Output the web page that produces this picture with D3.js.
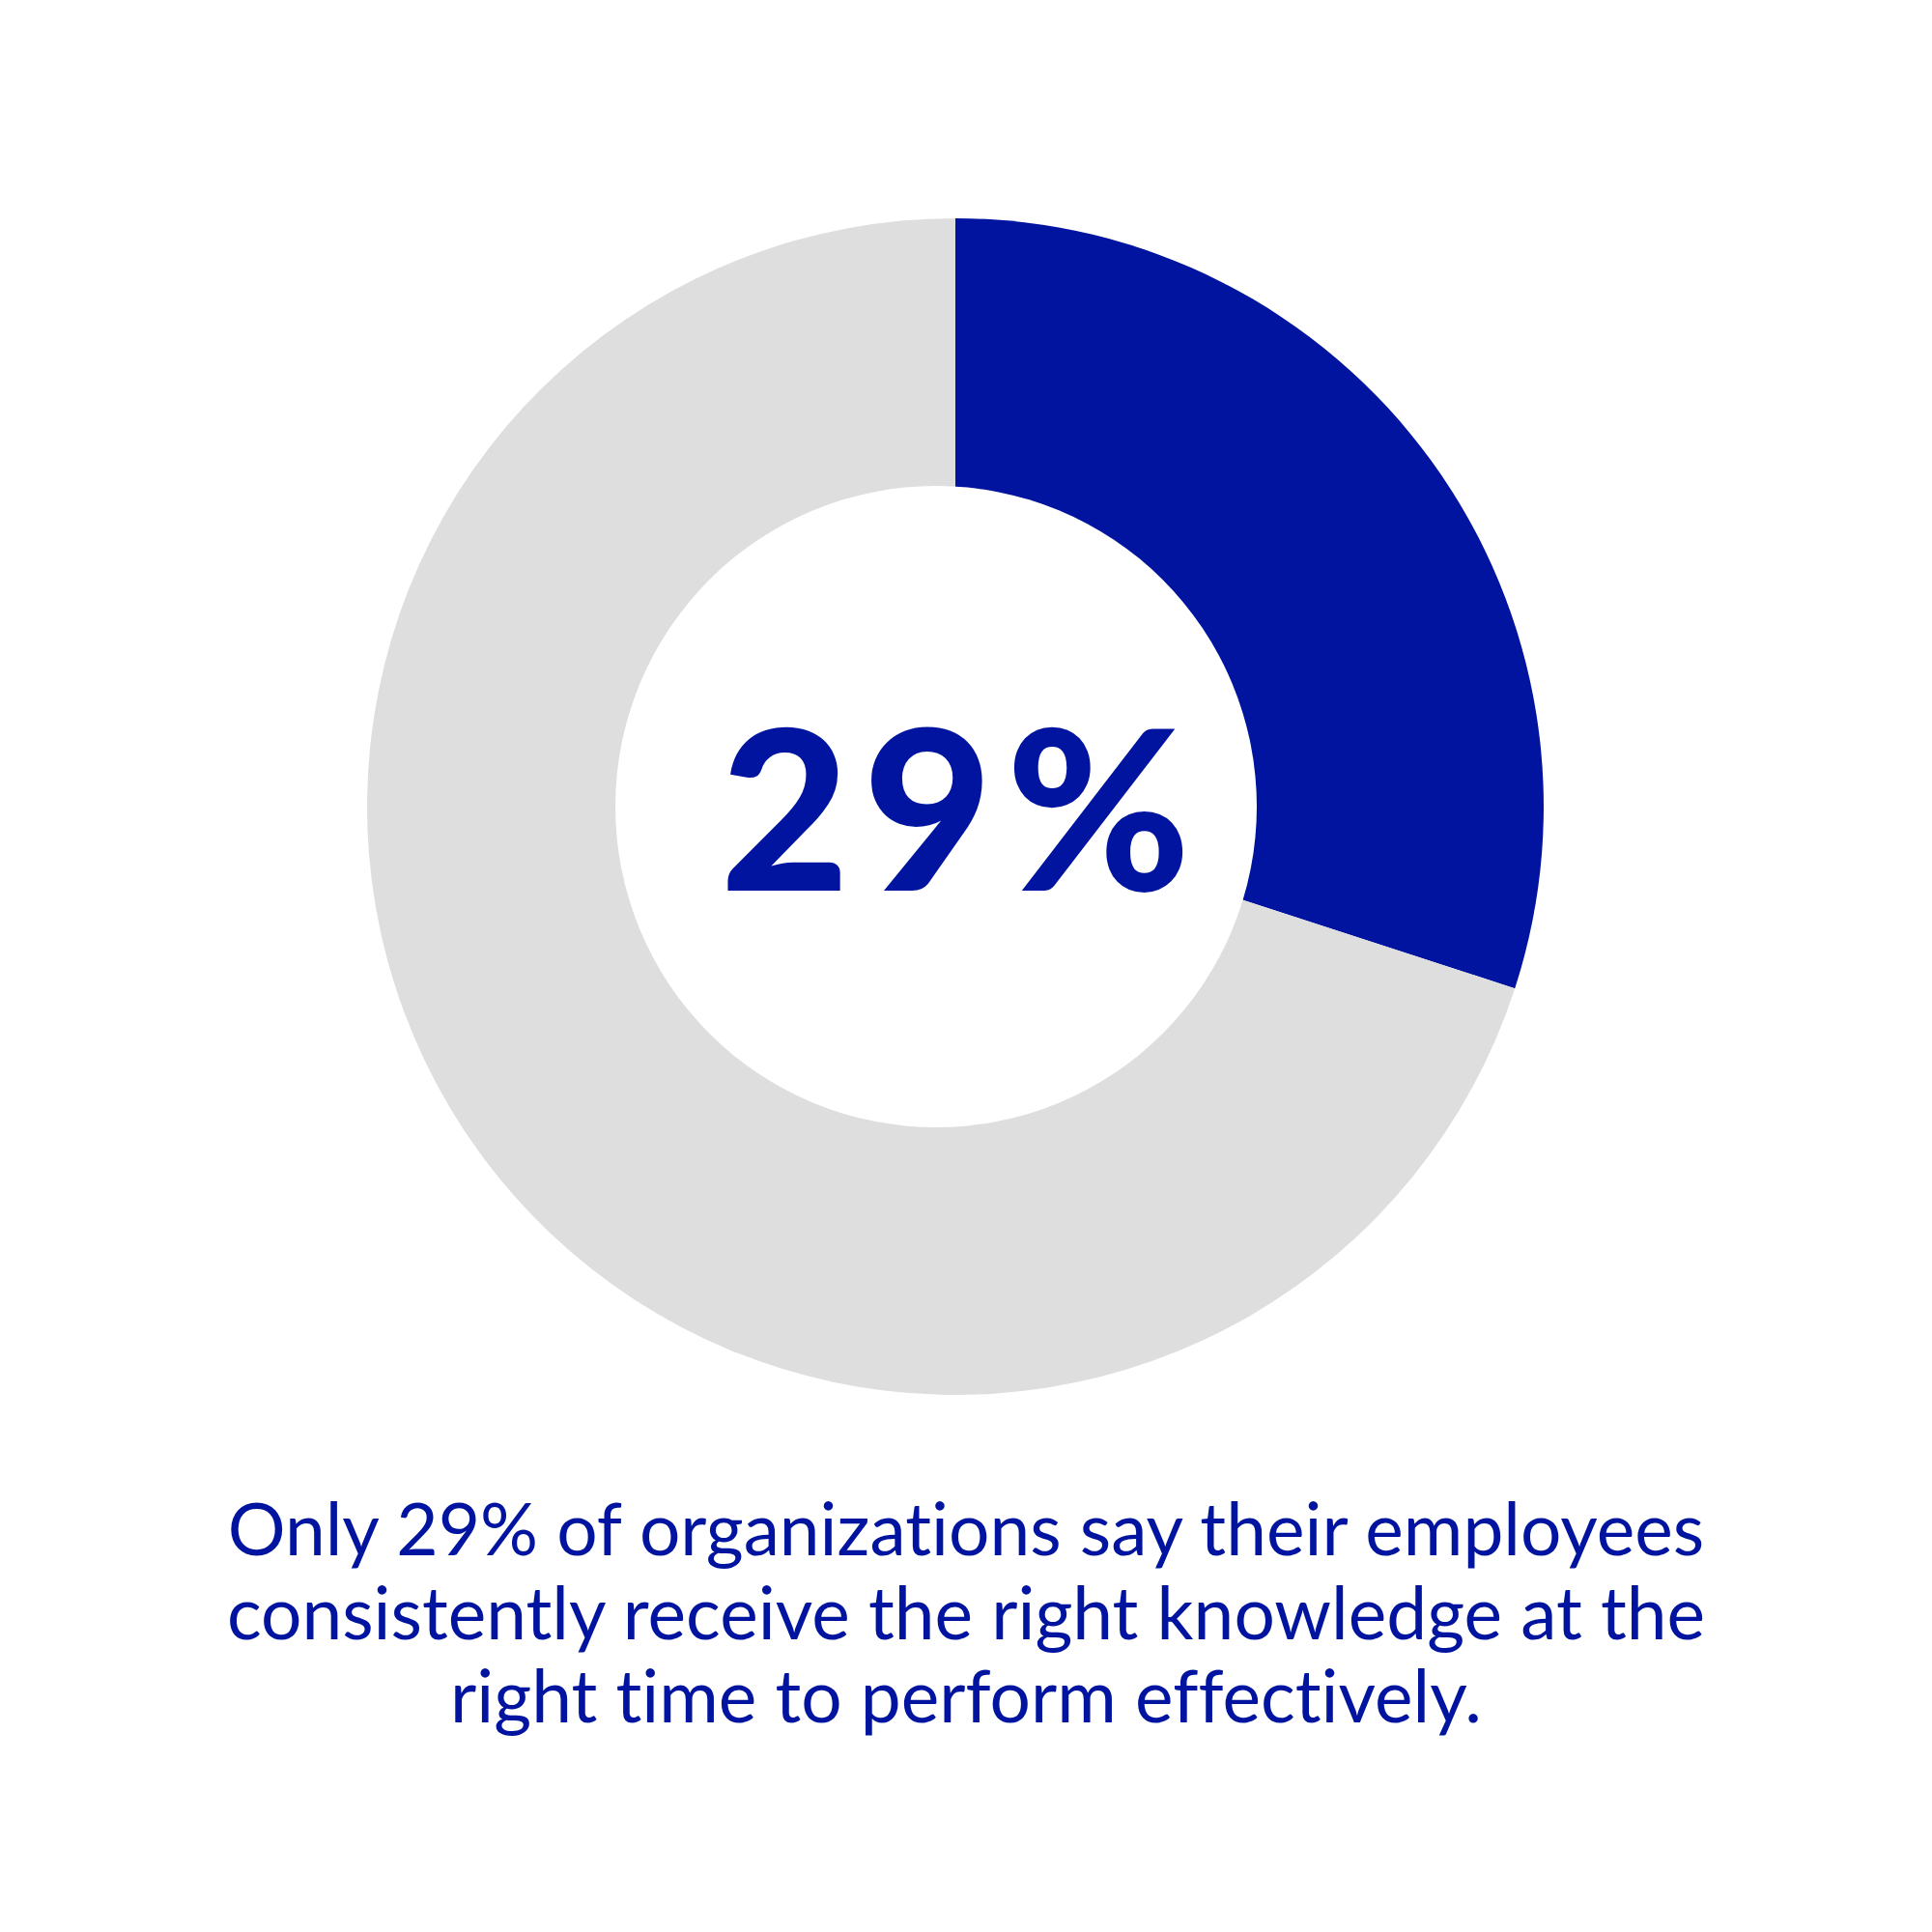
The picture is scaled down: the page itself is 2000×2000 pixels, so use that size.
<!DOCTYPE html>
<html><head><meta charset="utf-8">
<script src="https://cdn.jsdelivr.net/npm/d3@7"></script>
<style>body{margin:0;background:#fff} text{font-variant-ligatures:none;font-feature-settings:"liga" 0,"clig" 0}</style></head>
<body>
<script>
// Data
const categories = ["Receive the right knowledge at the right time", "Do not"];
const shareValues = [30, 70]; // slice sizes as drawn in the ring
const headline = "29%";
const captionLines = [
  "Only 29% of organizations say their employees",
  "consistently receive the right knowledge at the",
  "right time to perform effectively."
];
const sliceColors = ["#0014A0", "#DEDEDE"];

const W = 2000, H = 2000;
const svg = d3.select("body").append("svg").attr("width", W).attr("height", H)
  .style("background", "#fff");

const pie = d3.pie().sort(null).value(d => d);
const arc = d3.arc().innerRadius(0).outerRadius(609);
const color = d3.scaleOrdinal().domain(categories).range(sliceColors);

const g = svg.append("g").attr("transform", "translate(989,835)");
g.selectAll("path").data(pie(shareValues)).join("path")
  .attr("d", arc)
  .attr("fill", (d, i) => color(categories[i]));

// hole of the ring
svg.append("circle").attr("cx", 969).attr("cy", 835).attr("r", 332).attr("fill", "#fff");

// headline
svg.append("text")
  .attr("x", 996).attr("y", 922)
  .attr("text-anchor", "middle")
  .attr("font-family", "Lato, 'Open Sans', sans-serif")
  .attr("font-weight", 900)
  .attr("font-size", 231)
  .attr("letter-spacing", 14)
  .attr("fill", "#0014A0")
  .text(headline);

// caption
const cap = svg.append("g");
const baselines = [1610, 1697, 1783];
const tl = cap.selectAll("text").data(captionLines).join("text")
  .attr("x", 1000).attr("y", (d, i) => baselines[i])
  .attr("text-anchor", "middle")
  .attr("font-family", "Lato, 'Open Sans', sans-serif")
  .attr("font-weight", 400)
  .attr("font-size", 70)
  .attr("fill", "#0014A0")
  .text(d => d);
const w0 = tl.nodes()[0].getComputedTextLength();
tl.attr("font-size", 70 * 1529 / w0);
</script>
</body></html>
